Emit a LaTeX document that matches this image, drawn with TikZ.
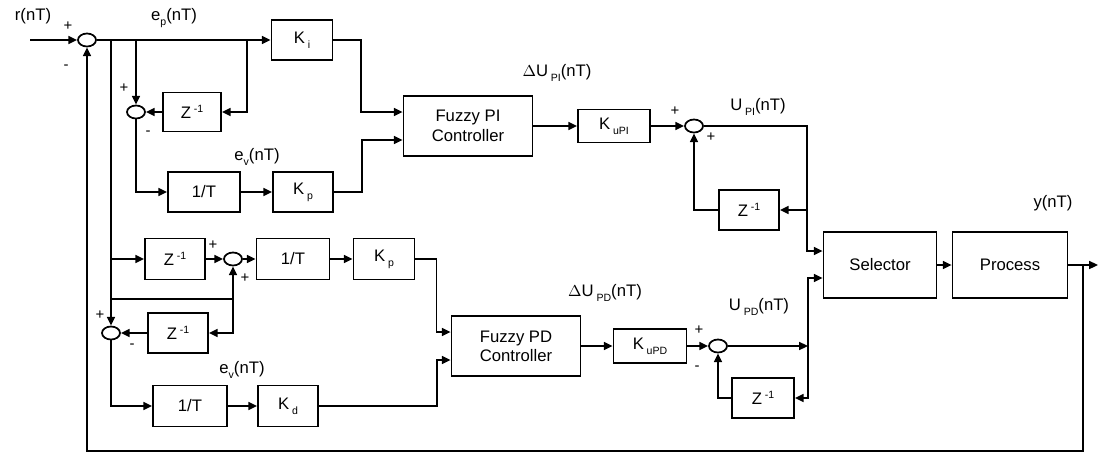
\documentclass[tikz,border=0pt]{standalone}
\usepackage{fontspec}
\setmainfont{Liberation Sans}
\usetikzlibrary{arrows.meta,shapes.geometric}
\newcommand{\lowidx}[1]{\raisebox{-0.6ex}{\fontsize{6}{6}\selectfont #1}}
\newcommand{\hiidx}[1]{\raisebox{0.75ex}{\fontsize{6}{6}\selectfont #1}}
\tikzset{
  wire/.style={line width=1pt},
  flow/.style={wire,-{Triangle[length=5pt,width=4.5pt]}},
  blk/.style 2 args={draw,line width=1pt,inner sep=0pt,align=center,
    minimum width=#1cm,minimum height=#2cm,font=\fontsize{9.5}{11}\selectfont},
  sumj/.style={draw,ellipse,line width=1pt,inner sep=0pt,
    minimum width=0.36cm,minimum height=0.26cm},
  sgn/.style={inner sep=0pt,font=\fontsize{8.5}{8.5}\selectfont},
  lbl/.style={inner sep=0pt,font=\fontsize{9.5}{11}\selectfont}
}
\begin{document}
\begin{tikzpicture}[x=0.02cm,y=-0.02cm]
\useasboundingbox (0,0) rectangle (1098,453);

% fuzzy PI branch
\node[lbl] (rlbl) at (33,16) {r(nT)};
\coordinate (rin) at (30,40);
\node[sumj] (s1) at (87,40) {};
\node[sgn] (s1p) at (68,26) {+};
\node[sgn] (s1m) at (66,67) {-};
\node[lbl] (eplbl) at (174,18) {e\lowidx{p}(nT)};
\node[blk={1.22}{0.8}] (ki) at (302,40) {K\,\lowidx{i}};
\coordinate (ba) at (111,40);
\coordinate (bb) at (136,40);
\coordinate (bc) at (247,40);
\node[sumj] (s2) at (136,112) {};
\node[sgn] (s2p) at (124,88) {+};
\node[sgn] (s2m) at (148,133) {-};
\node[blk={1.16}{0.78}] (z1) at (192,112) {Z\,\hiidx{-1}};
\node[lbl] (evlbl) at (257,157) {e\lowidx{v}(nT)};
\node[blk={1.44}{0.8}] (inv1) at (204,192) {1/T};
\node[blk={1.2}{0.8}] (kp1) at (303,192) {K\,\lowidx{p}};
\node[blk={2.58}{1.2}] (fpi) at (468,126) {Fuzzy PI\\Controller};
\node[lbl] (dupilbl) at (557,73) {$\Delta$U\,\lowidx{PI}(nT)};
\node[blk={1.44}{0.66}] (kupi) at (614,126) {K\,\lowidx{uPI}};
\node[sumj] (s3) at (694,126) {};
\node[sgn] (s3p) at (675,111) {+};
\node[sgn] (s3q) at (711,137) {+};
\node[lbl] (upilbl) at (758,107) {U\,\lowidx{PI}(nT)};
\node[blk={1.2}{0.8}] (z2) at (749,210) {Z\,\hiidx{-1}};
\coordinate (jpi) at (807,210);

\draw[flow] (rin) -- (s1.west);
\draw[flow] (s1.east) -- (ki.west);
\draw[flow] (bb) -- (s2.north);
\draw[flow] (bc) |- (z1.east);
\draw[flow] (z1.west) -- (s2.east);
\draw[flow] (s2.south) |- (inv1.west);
\draw[flow] (inv1.east) -- (kp1.west);
\draw[flow] (ki.east) -- ++(28,0) |- ([yshift=0.28cm]fpi.west);
\draw[flow] (kp1.east) -- ++(28,0) |- ([yshift=-0.28cm]fpi.west);
\draw[flow] (fpi.east) -- (kupi.west);
\draw[flow] (kupi.east) -- (s3.west);
\draw[wire] (s3.east) -| (jpi);
\draw[flow] (jpi) -- (z2.east);
\draw[flow] (z2.west) -| (s3.south);

% fuzzy PD branch
\coordinate (bd) at (111,259);
\coordinate (be) at (111,299);
\coordinate (bf) at (233,299);
\node[blk={1.2}{0.82}] (z3) at (175,259) {Z\,\hiidx{-1}};
\node[sumj] (s5) at (233,259) {};
\node[sgn] (s5p) at (213,245) {+};
\node[sgn] (s5q) at (245,278) {+};
\node[blk={1.46}{0.82}] (inv2) at (293,259) {1/T};
\node[blk={1.22}{0.82}] (kp2) at (384,259) {K\,\lowidx{p}};
\node[sumj] (s4) at (111,333) {};
\node[sgn] (s4p) at (100,315) {+};
\node[sgn] (s4m) at (132,346) {-};
\node[blk={1.2}{0.8}] (z4) at (178,333) {Z\,\hiidx{-1}};
\node[lbl] (ev2lbl) at (242,370) {e\lowidx{v}(nT)};
\node[blk={1.48}{0.82}] (inv3) at (190,406) {1/T};
\node[blk={1.2}{0.82}] (kd) at (288,406) {K\,\lowidx{d}};
\node[blk={2.58}{1.2}] (fpd) at (516,346) {Fuzzy PD\\Controller};
\node[lbl] (dupdlbl) at (605,293) {$\Delta$U\,\lowidx{PD}(nT)};
\node[blk={1.46}{0.68}] (kupd) at (650,346) {K\,\lowidx{uPD}};
\node[sumj] (s6) at (718,346) {};
\node[sgn] (s6p) at (699,330) {+};
\node[sgn] (s6m) at (697,368) {-};
\node[lbl] (updlbl) at (759,307) {U\,\lowidx{PD}(nT)};
\node[blk={1.24}{0.8}] (z5) at (763,398) {Z\,\hiidx{-1}};
\coordinate (jpd) at (808,346);

\draw[flow] (ba) -- (s4.north);
\draw[flow] (bd) -- (z3.west);
\draw[flow] (z3.east) -- (s5.west);
\draw[flow] (s5.east) -- (inv2.west);
\draw[flow] (inv2.east) -- (kp2.west);
\draw[wire] (be) -- (bf);
\draw[flow] (bf) -- (s5.south);
\draw[flow] (bf) |- (z4.east);
\draw[flow] (z4.west) -- (s4.east);
\draw[flow] (s4.south) |- (inv3.west);
\draw[flow] (inv3.east) -- (kd.west);
\draw[flow] (kp2.east) -- ++(21,0) |- ([yshift=0.28cm]fpd.west);
\draw[flow] (kd.east) -- ++(118,0) |- ([yshift=-0.28cm]fpd.west);
\draw[flow] (fpd.east) -- (kupd.west);
\draw[flow] (kupd.east) -- (s6.west);
\draw[flow] (s6.east) -- (jpd);
\draw[flow] (jpd) |- (z5.east);
\draw[flow] (z5.west) -| (s6.south);

% selector, process, feedback
\node[blk={2.26}{1.32}] (sel) at (880,265) {Selector};
\node[blk={2.3}{1.32}] (proc) at (1010,265) {Process};
\node[lbl] (ylbl) at (1053,203) {y(nT)};
\coordinate (yout) at (1098,265);
\coordinate (jy) at (1083,265);
\coordinate (fbr) at (1083,451);

\draw[flow] (jpi) |- ([yshift=0.28cm]sel.west);
\draw[flow] (jpd) |- ([yshift=-0.26cm]sel.west);
\draw[flow] (sel.east) -- (proc.west);
\draw[flow] (proc.east) -- (yout);
\draw[flow] (jy) -- (fbr) -| (s1.south);
\end{tikzpicture}
\end{document}
